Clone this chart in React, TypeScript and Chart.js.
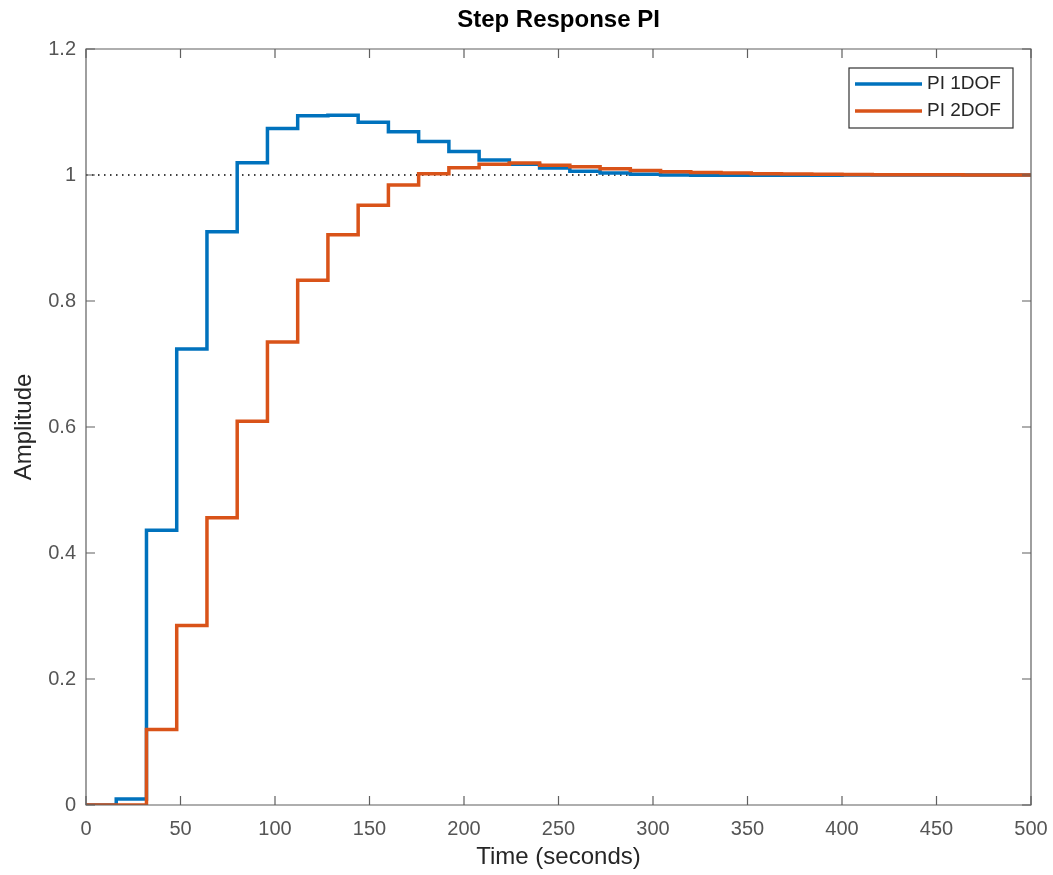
import React, { useEffect, useRef } from "react";
import { Chart, registerables } from "chart.js";

Chart.register(...registerables);

// ---- data ----
const times = [0, 16, 32, 48, 64, 80, 96, 112, 128, 144, 160, 176, 192, 208, 224, 240, 256, 272, 288, 304, 320, 336, 352, 368, 384, 400, 416, 432, 448, 464, 480, 496, 500];
const pi1dof = [0, 0.0095, 0.436, 0.724, 0.91, 1.0195, 1.074, 1.094, 1.095, 1.0836, 1.0687, 1.053, 1.0375, 1.024, 1.017, 1.011, 1.006, 1.003, 1.001, 1.0, 0.9995, 0.9995, 0.9996, 0.9997, 0.9998, 0.9999, 1, 1, 1, 1, 1, 1, 1];
const pi2dof = [0, 0, 0.12, 0.285, 0.456, 0.609, 0.735, 0.833, 0.905, 0.952, 0.984, 1.002, 1.0115, 1.017, 1.019, 1.0155, 1.013, 1.01, 1.007, 1.005, 1.004, 1.003, 1.002, 1.0015, 1.001, 1.0007, 1.0005, 1.0003, 1.0002, 1.0001, 1, 1, 1];
const steadyTimes = [0, 500];
const steadyValues = [1, 1];
const seriesLabels = ["PI 1DOF", "PI 2DOF"];
const xTicks = [0, 50, 100, 150, 200, 250, 300, 350, 400, 450, 500];
const yTicks = [0, 0.2, 0.4, 0.6, 0.8, 1, 1.2];
const titleText = "Step Response PI";
const xTitle = "Time (seconds)";
const yTitle = "Amplitude";

const FONT = "'Liberation Sans', Arial, Helvetica, sans-serif";
const BLUE = "#0072BD";
const ORANGE = "#D95319";
const AXIS = "#5f5f5f";
const TICKTXT = "#555555";

const boxPlugin = {
  id: "matlabBox",
  afterDraw(chart: any) {
    const { ctx, chartArea } = chart;
    const { left, right, top, bottom } = chartArea;
    const xs = chart.scales.x;
    const ys = chart.scales.y;
    ctx.save();
    ctx.strokeStyle = AXIS;
    ctx.lineWidth = 1.2;
    ctx.beginPath();
    ctx.rect(left, top, right - left, bottom - top);
    ctx.stroke();
    const tl = 9;
    ctx.beginPath();
    xs.ticks.forEach((t: any) => {
      const px = xs.getPixelForValue(t.value);
      ctx.moveTo(px, bottom);
      ctx.lineTo(px, bottom - tl);
      ctx.moveTo(px, top);
      ctx.lineTo(px, top + tl);
    });
    ys.ticks.forEach((t: any) => {
      const py = ys.getPixelForValue(t.value);
      ctx.moveTo(left, py);
      ctx.lineTo(left + tl, py);
      ctx.moveTo(right, py);
      ctx.lineTo(right - tl, py);
    });
    ctx.stroke();

    // legend
    const bw = 164;
    const bh = 60;
    const bx = right - 18 - bw;
    const by = top + 19;
    ctx.fillStyle = "#ffffff";
    ctx.fillRect(bx, by, bw, bh);
    ctx.strokeStyle = "#333333";
    ctx.lineWidth = 1.2;
    ctx.strokeRect(bx, by, bw, bh);
    const items = chart.data.datasets.filter((d: any) => seriesLabels.includes(d.label));
    ctx.font = `19px ${FONT}`;
    ctx.textBaseline = "middle";
    ctx.textAlign = "left";
    items.forEach((d: any, i: number) => {
      const cy = by + 16 + i * 27;
      ctx.strokeStyle = d.borderColor;
      ctx.lineWidth = 3.5;
      ctx.beginPath();
      ctx.moveTo(bx + 6, cy);
      ctx.lineTo(bx + 73, cy);
      ctx.stroke();
      ctx.fillStyle = "#262626";
      ctx.fillText(d.label, bx + 78, cy);
    });
    ctx.restore();
  },
};

export default function App() {
  const ref = useRef<HTMLCanvasElement | null>(null);
  useEffect(() => {
    if (!ref.current) return;
    const chart = new Chart(ref.current, {
      type: "line",
      data: {
        datasets: [
          {
            label: seriesLabels[0],
            data: times.map((t, i) => ({ x: t, y: pi1dof[i] })),
            borderColor: BLUE,
            backgroundColor: BLUE,
            borderWidth: 3.5,
            pointRadius: 0,
            stepped: true,
            order: 2,
            borderJoinStyle: "miter",
          },
          {
            label: seriesLabels[1],
            data: times.map((t, i) => ({ x: t, y: pi2dof[i] })),
            borderColor: ORANGE,
            backgroundColor: ORANGE,
            borderWidth: 3.5,
            pointRadius: 0,
            stepped: true,
            order: 1,
            borderJoinStyle: "miter",
          },
          {
            label: "steady",
            data: steadyTimes.map((t, i) => ({ x: t, y: steadyValues[i] })),
            borderColor: "#000000",
            borderWidth: 1.5,
            borderDash: [1.5, 4.5],
            pointRadius: 0,
            order: 3,
          },
        ],
      },
      options: {
        animation: false,
        responsive: false,
        layout: { padding: { left: 0, right: 22, top: 0, bottom: 0 } },
        plugins: {
          legend: { display: false },
          tooltip: { enabled: false },
          title: { display: false },
        },
        scales: {
          x: {
            type: "linear",
            min: 0,
            max: 500,
            afterBuildTicks: (s: any) => {
              s.ticks = xTicks.map((v) => ({ value: v }));
            },
            afterFit: (s: any) => {
              s.height = 70;
              s.paddingLeft = 0;
              s.paddingRight = 0;
            },
            grid: { display: false, drawTicks: false },
            border: { display: false },
            ticks: {
              color: TICKTXT,
              font: { family: FONT, size: 20 },
              padding: 12,
              maxRotation: 0,
              callback: (v: any) => String(v),
            },
            title: {
              display: true,
              text: xTitle,
              color: "#262626",
              font: { family: FONT, size: 24 },
              padding: { top: 0, bottom: 3 },
            },
          },
          xTop: {
            type: "linear",
            position: "top",
            min: 0,
            max: 500,
            afterFit: (s: any) => {
              s.height = 49;
              s.paddingLeft = 0;
              s.paddingRight = 0;
            },
            grid: { display: false, drawTicks: false },
            border: { display: false },
            ticks: { display: false },
            title: {
              display: true,
              text: titleText,
              color: "#000000",
              font: { family: FONT, size: 24, weight: "bold" },
              padding: { top: 6, bottom: 0 },
            },
          },
          y: {
            type: "linear",
            min: 0,
            max: 1.2,
            afterBuildTicks: (s: any) => {
              s.ticks = yTicks.map((v) => ({ value: v }));
            },
            afterFit: (s: any) => {
              s.width = 86;
              s.paddingTop = 0;
              s.paddingBottom = 0;
            },
            grid: { display: false, drawTicks: false },
            border: { display: false },
            ticks: {
              color: TICKTXT,
              font: { family: FONT, size: 20 },
              padding: 10,
              callback: (v: any) => String(Math.round(v * 10) / 10),
            },
            title: {
              display: true,
              text: yTitle,
              color: "#262626",
              font: { family: FONT, size: 24 },
              padding: { top: 10, bottom: 0 },
            },
          },
        },
      },
      plugins: [boxPlugin],
    } as any);
    return () => chart.destroy();
  }, []);
  return (
    <canvas
      ref={ref}
      width={1053}
      height={875}
      style={{ position: "fixed", left: 0, top: 0, display: "block", background: "#ffffff" }}
    />
  );
}
